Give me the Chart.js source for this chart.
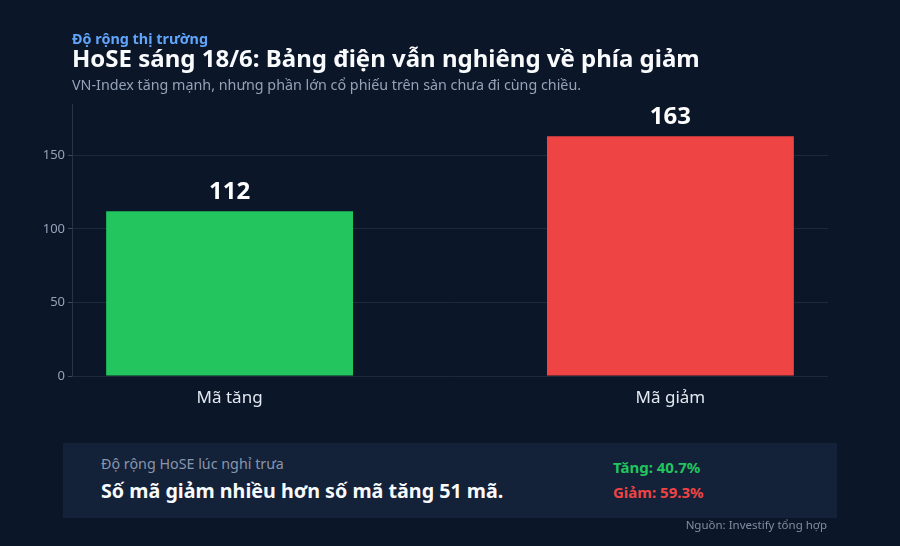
<!DOCTYPE html>
<html lang="vi">
<head>
<meta charset="utf-8">
<script src="https://cdn.jsdelivr.net/npm/chart.js@4"></script>
<style>
  html, body { margin: 0; padding: 0; background: #0b1629; }
  body { width: 900px; height: 546px; position: relative; overflow: hidden; font-family: "Noto Sans", sans-serif; }
  #c { position: absolute; left: 0; top: 0; }
  .t { position: absolute; white-space: nowrap; line-height: 1.2; }
  #kicker { left: 72px; top: 29.8px; font-size: 14.4px; font-weight: 700; color: #60a5fa; }
  #title { left: 72px; top: 44px; font-size: 24px; font-weight: 700; color: #f8fafc; }
  #sub { left: 72px; top: 76.2px; font-size: 14.3px; color: #94a3b8; }
  #box { position: absolute; left: 63px; top: 443px; width: 774px; height: 75px; background: #132139; }
  #boxlabel { left: 101px; top: 454.9px; font-size: 14.3px; color: #8896ab; }
  #boxmain { left: 101px; top: 478.8px; font-size: 19.7px; font-weight: 700; color: #f8fafc; }
  #up { left: 613px; top: 457.5px; font-size: 15px; font-weight: 700; color: #22c55e; }
  #down { left: 613px; top: 482.5px; font-size: 15px; font-weight: 700; color: #ef4444; }
  #src { right: 73px; top: 518px; font-size: 11.5px; color: #7f8ea3; }
</style>
</head>
<body>
<canvas id="c" width="900" height="546"></canvas>
<div class="t" id="kicker">Độ rộng thị trường</div>
<div class="t" id="title">HoSE sáng 18/6: Bảng điện vẫn nghiêng về phía giảm</div>
<div class="t" id="sub">VN-Index tăng mạnh, nhưng phần lớn cổ phiếu trên sàn chưa đi cùng chiều.</div>
<div id="box"></div>
<div class="t" id="boxlabel">Độ rộng HoSE lúc nghỉ trưa</div>
<div class="t" id="boxmain">Số mã giảm nhiều hơn số mã tăng 51 mã.</div>
<div class="t" id="up">Tăng: 40.7%</div>
<div class="t" id="down">Giảm: 59.3%</div>
<div class="t" id="src">Nguồn: Investify tổng hợp</div>
<script>
const categories = ["Mã tăng", "Mã giảm"];
const values = [112, 163];
const barColors = ["#22c55e", "#ef4444"];
const yTicks = [0, 50, 100, 150];

const valueLabels = {
  id: "valueLabels",
  afterDatasetsDraw(chart) {
    const ctx = chart.ctx;
    const meta = chart.getDatasetMeta(0);
    ctx.save();
    ctx.font = "700 24px 'Noto Sans'";
    ctx.fillStyle = "#ffffff";
    ctx.textAlign = "center";
    ctx.textBaseline = "alphabetic";
    meta.data.forEach((bar, i) => {
      ctx.fillText(String(values[i]), bar.x, bar.y - 12.5);
    });
    ctx.restore();
  }
};

new Chart(document.getElementById("c"), {
  type: "bar",
  data: {
    datasets: [{
      data: values.map((v, i) => ({ x: i, y: v })),
      backgroundColor: barColors,
      borderWidth: 0,
      barPercentage: 0.56,
      categoryPercentage: 1
    }]
  },
  options: {
    responsive: false,
    animation: false,
    layout: { padding: { top: 104, right: 72, bottom: 130, left: 0 } },
    plugins: { legend: { display: false }, tooltip: { enabled: false } },
    scales: {
      x: {
        type: "linear",
        min: -0.3575,
        max: 1.3575,
        offset: false,
        afterBuildTicks: (s) => { s.ticks = categories.map((c, i) => ({ value: i })); },
        afterFit: (s) => { s.height = 40; },
        grid: { display: false, offset: false },
        border: { display: false },
        ticks: {
          callback: (v) => categories[v],
          color: "#e2e8f0",
          font: { family: "Noto Sans", size: 17 },
          padding: 4,
          maxRotation: 0
        }
      },
      y: {
        min: 0,
        max: 185,
        afterBuildTicks: (s) => { s.ticks = yTicks.map(v => ({ value: v })); },
        afterFit: (s) => { s.width = 72; },
        grid: { color: "#1d2a3e", tickLength: 4, tickColor: "#3a4a60" },
        border: { display: true, color: "#25344a", width: 1 },
        ticks: {
          color: "#94a3b8",
          font: { family: "Noto Sans", size: 13 },
          padding: 3
        }
      }
    }
  },
  plugins: [valueLabels]
});
</script>
</body>
</html>
